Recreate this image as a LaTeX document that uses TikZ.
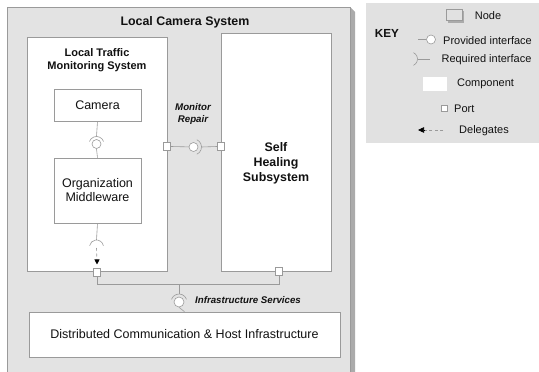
\documentclass[tikz,border=0pt]{standalone}
\usepackage{fontspec}
\setmainfont{Liberation Sans}
\usetikzlibrary{arrows.meta}
\definecolor{bggrey}{HTML}{E3E3E3}
\definecolor{keygrey}{HTML}{E1E1E1}
\definecolor{linegrey}{HTML}{9A9A9A}
\definecolor{shadowgrey}{HTML}{ABABAB}
\definecolor{txt}{HTML}{111111}
\begin{document}
\begin{tikzpicture}[x=1pt,y=-1pt,
  every node/.style={text=txt},
  box/.style={draw=linegrey, fill=white, line width=0.6pt, inner sep=0pt},
  portbox/.style={draw=linegrey, fill=white, line width=0.6pt, minimum width=7pt, minimum height=7.5pt, inner sep=0pt},
  ballnode/.style={circle, draw=linegrey, fill=white, line width=0.6pt, minimum size=9pt, inner sep=0pt},
  wire/.style={draw=linegrey, line width=0.6pt},
  boldtitle/.style={font=\bfseries\fontsize{11}{12.5}\selectfont, align=center},
  comptext/.style={font=\fontsize{12.5}{14}\selectfont, align=center},
  ifacelabel/.style={font=\bfseries\itshape\fontsize{9.7}{12}\selectfont, align=center},
  keytext/.style={font=\fontsize{11}{13}\selectfont, inner sep=0pt}
]
\useasboundingbox (0,0) rectangle (539,372);
\clip (0,0) rectangle (539,372);

% outer node: Local Camera System
\fill[shadowgrey] (350,7) -- (355,12) -- (355,380) -- (350,380) -- cycle;
\node[draw=linegrey, fill=bggrey, line width=0.6pt, minimum width=343pt, minimum height=393pt, inner sep=0pt] (lcs) at (178.5,203.5) {};
\node[font=\bfseries\fontsize{12.4}{14}\selectfont] (lcstitle) at (185,22.5) {Local Camera System};

% key box
\node[fill=keygrey, minimum width=173pt, minimum height=140pt, inner sep=0pt] (keybox) at (452.5,73) {};

% inner components
\node[box, minimum width=140pt, minimum height=234pt] (ltms) at (97,154) {};
\node[boldtitle] (ltmstitle) at (97,60) {Local Traffic\\Monitoring System};
\node[box, minimum width=110pt, minimum height=238pt] (shs) at (276,152) {};
\node[font=\bfseries\fontsize{12.4}{15}\selectfont, align=center] (shstitle) at (276,163) {Self\\Healing\\Subsystem};
\node[box, minimum width=87pt, minimum height=32pt, comptext] (camera) at (97.5,105) {Camera};
\node[box, minimum width=87pt, minimum height=65pt, comptext] (org) at (97.5,190.5) {Organization\\Middleware};
\node[box, minimum width=311pt, minimum height=45pt, comptext] (dist) at (184.5,334.5) {Distributed Communication \& Host Infrastructure};

% camera -> middleware ball and socket
\coordinate (camball-c) at (96.5,144);
\draw[wire] (camera.south) -- ([yshift=7.5pt]camball-c);
\draw[wire] ([shift={(20:7.5pt)}]camball-c) arc[start angle=20, end angle=160, radius=7.5pt];
\node[ballnode] (camball) at (camball-c) {};
\draw[wire] (camball.south) -- (org.north);

% middleware required socket + delegation
\coordinate (orgsock) at (96.5,247);
\draw[wire] (org.south) -- ([yshift=7pt]orgsock);
\draw[wire] ([shift={(10:7pt)}]orgsock) arc[start angle=10, end angle=170, radius=7pt];
\node[portbox] (lport) at (97,272.5) {};
\draw[linegrey, line width=0.6pt, dash pattern=on 3pt off 2.5pt] ([yshift=-1pt]orgsock) -- ([yshift=6pt]lport.north);
\draw[-{Triangle[length=5pt,width=5pt]}, black, line width=0.6pt] ([yshift=7pt]lport.north) -- ([yshift=4pt]lport.north);

% monitor repair
\node[portbox] (lmport) at (167,146.5) {};
\node[portbox] (rmport) at (221,146.5) {};
\coordinate (monball-c) at (193.5,147);
\draw[wire] (lmport.east) -- (monball-c);
\draw[wire] ([shift={(-65:8pt)}]monball-c) arc[start angle=-65, end angle=65, radius=8pt];
\draw[wire] ([xshift=8pt]monball-c) -- (rmport.west);
\node[ballnode] (monball) at (monball-c) {};
\node[ifacelabel] (monlabel) at (193,114) {Monitor\\Repair};

% infrastructure services bus
\node[portbox] (sport) at (279,271.5) {};
\coordinate (bus) at (179,284.5);
\draw[wire] (lport.south) |- (bus) -| (sport.south);
\coordinate (infball-c) at (179,302);
\draw[wire] (bus) -- ([yshift=8pt]infball-c);
\draw[wire] ([shift={(20:8pt)}]infball-c) arc[start angle=20, end angle=160, radius=8pt];
\node[ballnode, minimum size=10pt] (infball) at (infball-c) {};
\draw[wire] (infball.south) -- (dist.north);
\node[ifacelabel, anchor=west, inner sep=0pt] (inflabel) at (195,300.5) {Infrastructure Services};

% KEY
\node[font=\bfseries\fontsize{11.7}{14}\selectfont, inner sep=0pt] (keytitle) at (387,33) {KEY};
% node icon
\fill[shadowgrey] (448,11) rectangle (464,22.5);
\node[draw=linegrey, fill=keygrey, line width=0.5pt, minimum width=16pt, minimum height=11pt, inner sep=0pt] (keynode) at (454.5,15) {};
\node[keytext] (keynodetxt) at (488,16) {Node};
% provided interface
\node[ballnode, minimum size=9pt] (keyball) at (431,39.5) {};
\coordinate (keyprovL) at (418,39.5);
\draw[wire] (keyprovL) -- (keyball.west);
\node[keytext] (keyprovtxt) at (487.5,40.5) {Provided interface};
% required interface
\coordinate (keyreq-c) at (410.5,59);
\draw[wire] ([shift={(-65:7pt)}]keyreq-c) arc[start angle=-65, end angle=65, radius=7pt];
\coordinate (keyreqR) at (430,59);
\draw[wire] ([xshift=7pt]keyreq-c) -- (keyreqR);
\node[keytext] (keyreqtxt) at (486.5,59.5) {Required interface};
% component
\node[fill=white, minimum width=24pt, minimum height=14pt, inner sep=0pt] (keycomp) at (435,84) {};
\node[keytext] (keycomptxt) at (485.5,84) {Component};
% port
\node[portbox, minimum width=6pt, minimum height=6pt] (keyport) at (444.5,108) {};
\node[keytext, anchor=west] (keyporttxt) at (454,108.5) {Port};
% delegates
\coordinate (keydelR) at (443,130);
\coordinate (keydelL) at (418,130);
\draw[linegrey, line width=0.6pt, dash pattern=on 3pt off 2.5pt] (keydelR) -- ([xshift=5pt]keydelL);
\draw[-{Triangle[length=6pt,width=5.5pt]}, black, line width=0.6pt] ([xshift=7pt]keydelL) -- (keydelL);
\node[keytext] (keydeltxt) at (484,130.5) {Delegates};
\end{tikzpicture}
\end{document}
